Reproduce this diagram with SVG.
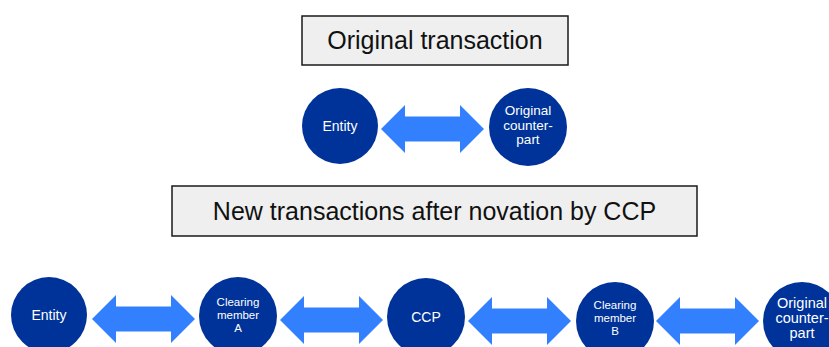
<svg xmlns="http://www.w3.org/2000/svg" xmlns:xlink="http://www.w3.org/1999/xlink" width="829" height="347" viewBox="0 0 829 347">
<style>
.box{fill:#efefef;stroke:#1a1a1a;stroke-width:1.5}
.title{font-family:"Liberation Sans",Arial,sans-serif;font-size:25px;fill:#111;text-anchor:middle}
.node{fill:#003399}
.lbl{font-family:"Liberation Sans",Arial,sans-serif;fill:#fff;text-anchor:middle}
.arrow{fill:#3380ff}
</style>
<defs>
<path id="dblarrow" d="M0,0 L24,-24 L24,-12.5 L79,-12.5 L79,-24 L103,0 L79,24 L79,12.5 L24,12.5 L24,24 Z"/>
</defs>
<g id="title-original">
<rect class="box" x="302" y="16" width="266" height="49"/>
<text class="title" x="435" y="49">Original transaction</text>
</g>
<g id="title-new">
<rect class="box" x="172" y="186" width="525" height="50"/>
<text class="title" x="434.5" y="220">New transactions after novation by CCP</text>
</g>
<g id="connectors" class="arrow">
<use xlink:href="#dblarrow" x="381" y="129"/>
<use xlink:href="#dblarrow" x="92" y="319"/>
<use xlink:href="#dblarrow" x="280" y="320"/>
<use xlink:href="#dblarrow" x="468" y="321"/>
<use xlink:href="#dblarrow" x="656" y="321"/>
</g>
<g id="entity-top">
<circle class="node" cx="340" cy="126" r="38"/>
<text class="lbl" x="340" y="131" font-size="14">Entity</text>
</g>
<g id="counterpart-top">
<circle class="node" cx="528" cy="127" r="39"/>
<text class="lbl" font-size="13.5"><tspan x="528" y="115">Original</tspan><tspan x="528" y="129.5">counter-</tspan><tspan x="528" y="144">part</tspan></text>
</g>
<g id="entity">
<circle class="node" cx="49" cy="315" r="38"/>
<text class="lbl" x="49" y="320" font-size="14">Entity</text>
</g>
<g id="clearing-member-a">
<circle class="node" cx="238" cy="316" r="39"/>
<text class="lbl" font-size="11.5"><tspan x="238" y="306">Clearing</tspan><tspan x="238" y="319">member</tspan><tspan x="238" y="332">A</tspan></text>
</g>
<g id="ccp">
<circle class="node" cx="426" cy="317" r="39"/>
<text class="lbl" x="426" y="322" font-size="14">CCP</text>
</g>
<g id="clearing-member-b">
<circle class="node" cx="615" cy="321" r="39"/>
<text class="lbl" font-size="11.5"><tspan x="615" y="309">Clearing</tspan><tspan x="615" y="322">member</tspan><tspan x="615" y="335">B</tspan></text>
</g>
<g id="counterpart">
<circle class="node" cx="802" cy="321" r="39"/>
<text class="lbl" font-size="14.5"><tspan x="802" y="308">Original</tspan><tspan x="802" y="323">counter-</tspan><tspan x="802" y="338">part</tspan></text>
</g>
</svg>
